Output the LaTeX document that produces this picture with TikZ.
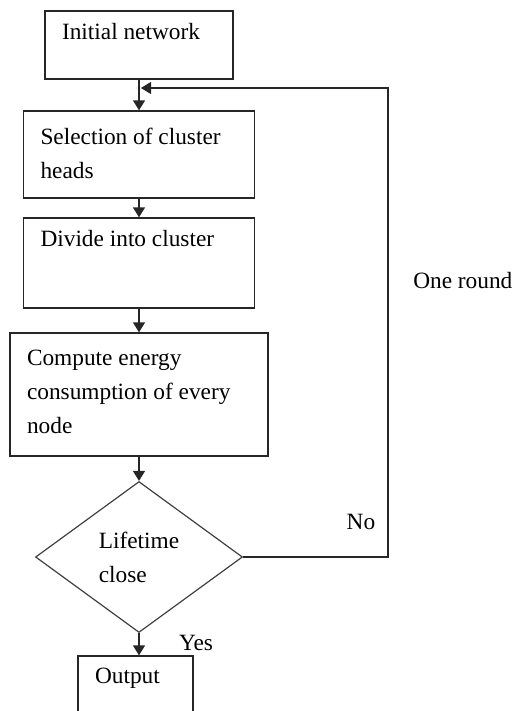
\documentclass[tikz,border=0pt]{standalone}
\usepackage{fontspec}
\setmainfont{Liberation Serif}
\usetikzlibrary{shapes.geometric,arrows.meta}
\newcommand{\boxtxt}[3]{\parbox[c][#1][t]{#2}{\raggedright #3}}

\begin{document}
\begin{tikzpicture}[x=0.75pt, y=-0.75pt]
				\tikzstyle{stepbox}=[draw=black!85, line width=1pt, rectangle, inner xsep=12.75pt, inner ysep=9pt];
				\tikzstyle{decide}=[draw=black!75, line width=0.9pt, diamond, aspect=1.37, inner sep=0pt, minimum width=155.25pt, minimum height=113.25pt, align=left];
				\tikzstyle{flow}=[draw=black!85, line width=1pt, -{Triangle[length=7.5pt, width=9pt]}];
				\tikzstyle{tag}=[inner sep=0pt];
				\fontsize{17.5}{25.5}\selectfont
				\clip (0,0) rectangle (520,711);
				\node [stepbox] (init) at (139,45) {\boxtxt{33pt}{115.5pt}{Initial network}};
				\node [stepbox] (sel) at (139,154.5) {\boxtxt{47.25pt}{147.75pt}{\vspace*{4pt}Selection of cluster\\heads}};
				\node [stepbox] (div) at (139,263) {\boxtxt{49.5pt}{147.75pt}{Divide into cluster}};
				\node [stepbox] (comp) at (139,394.5) {\boxtxt{74.25pt}{168pt}{\vspace*{4pt}Compute energy\\consumption of every\\node}};
				\node [decide] (dia) at (139,557) {Lifetime\\close};
				\node [stepbox] (out) at (135.5,696) {\boxtxt{42pt}{60.75pt}{Output}};
				\draw[flow] (init) -- (sel);
				\draw[flow] (sel) -- (div);
				\draw[flow] (div) -- (comp);
				\draw[flow] (comp) -- (dia);
				\draw[flow] (dia.south) -- (dia.south |- out.north);
				% loop back for the next round
				\coordinate (loop) at (388,88);
				\coordinate (merge) at (141,88);
				\draw[flow] (dia.east) -| (loop) -- (merge);
				\node [tag, anchor=west] (rnd) at (413,281) {One round};
				\node [tag] (no) at (361,522) {No};
				\node [tag] (yes) at (196,643) {Yes};
\end{tikzpicture}
\end{document}
